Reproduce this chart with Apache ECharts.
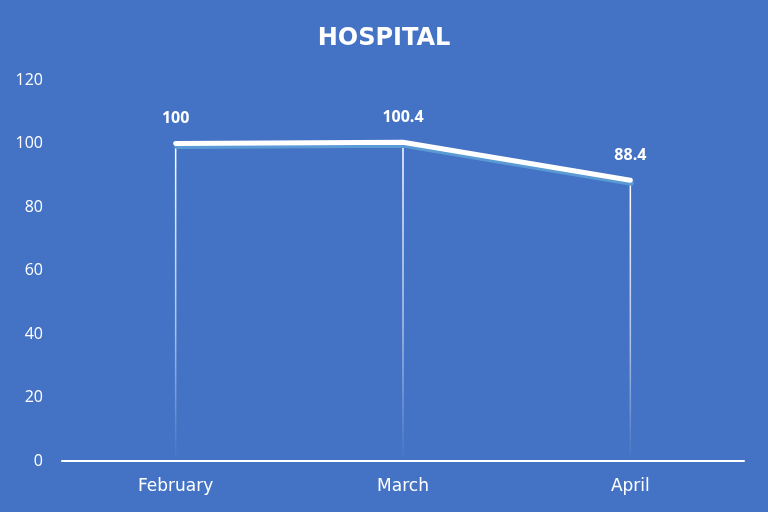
<!DOCTYPE html>
<html>
<head>
<meta charset="utf-8">
<script src="https://cdn.jsdelivr.net/npm/echarts@6/dist/echarts.min.js"></script>
<style>
  html, body { margin: 0; padding: 0; background: #4472C4; }
  #chart { width: 768px; height: 512px; }
</style>
</head>
<body>
<div id="chart"></div>
<script>
// Monthly hospital index
const months = ['February', 'March', 'April'];
const values = [100, 100.4, 88.4];
const yTicks = { min: 0, max: 120, step: 20 };

const chart = echarts.init(document.getElementById('chart'), null, { renderer: 'canvas' });

const font = '"Open Sans", "Noto Sans", sans-serif';
const wideFont = '"DejaVu Sans", "Open Sans", sans-serif';

chart.setOption({
  backgroundColor: '#4472C4',
  animation: false,
  title: {
    text: 'HOSPITAL',
    left: 'center',
    top: 22,
    textStyle: { color: '#ffffff', fontSize: 24, fontWeight: 'bold', fontFamily: wideFont }
  },
  grid: { left: 62, right: 24, top: 80, bottom: 51, containLabel: false },
  xAxis: {
    type: 'category',
    data: months,
    boundaryGap: true,
    axisLine: { lineStyle: { color: '#ffffff', width: 2 } },
    axisTick: { show: false },
    axisLabel: { color: '#ffffff', fontSize: 17, fontFamily: wideFont, margin: 17 }
  },
  yAxis: {
    type: 'value',
    min: yTicks.min,
    max: yTicks.max,
    interval: yTicks.step,
    axisLine: { show: false },
    axisTick: { show: false },
    splitLine: { show: false },
    axisLabel: { color: '#ffffff', fontSize: 16, fontFamily: font, margin: 19 }
  },
  series: [
    {
      // drop lines from each point down to the axis, carrying the value labels
      type: 'bar',
      data: values,
      barWidth: 1.5,
      silent: true,
      itemStyle: {
        color: new echarts.graphic.LinearGradient(0, 0, 0, 1, [
          { offset: 0, color: 'rgba(255,255,255,1)' },
          { offset: 0.6, color: 'rgba(255,255,255,0.55)' },
          { offset: 1, color: 'rgba(255,255,255,0)' }
        ])
      },
      label: {
        show: true,
        position: 'top',
        distance: 17,
        color: '#ffffff',
        fontSize: 16,
        fontWeight: 'bold',
        fontFamily: font
      },
      z: 1
    },
    {
      type: 'line',
      data: values,
      showSymbol: false,
      symbol: 'none',
      lineStyle: {
        color: '#ffffff',
        width: 5,
        cap: 'round',
        join: 'round',
        shadowColor: '#5B9BD5',
        shadowOffsetX: 1,
        shadowOffsetY: 3,
        shadowBlur: 0
      },
      z: 3
    }
  ]
});
</script>
</body>
</html>
